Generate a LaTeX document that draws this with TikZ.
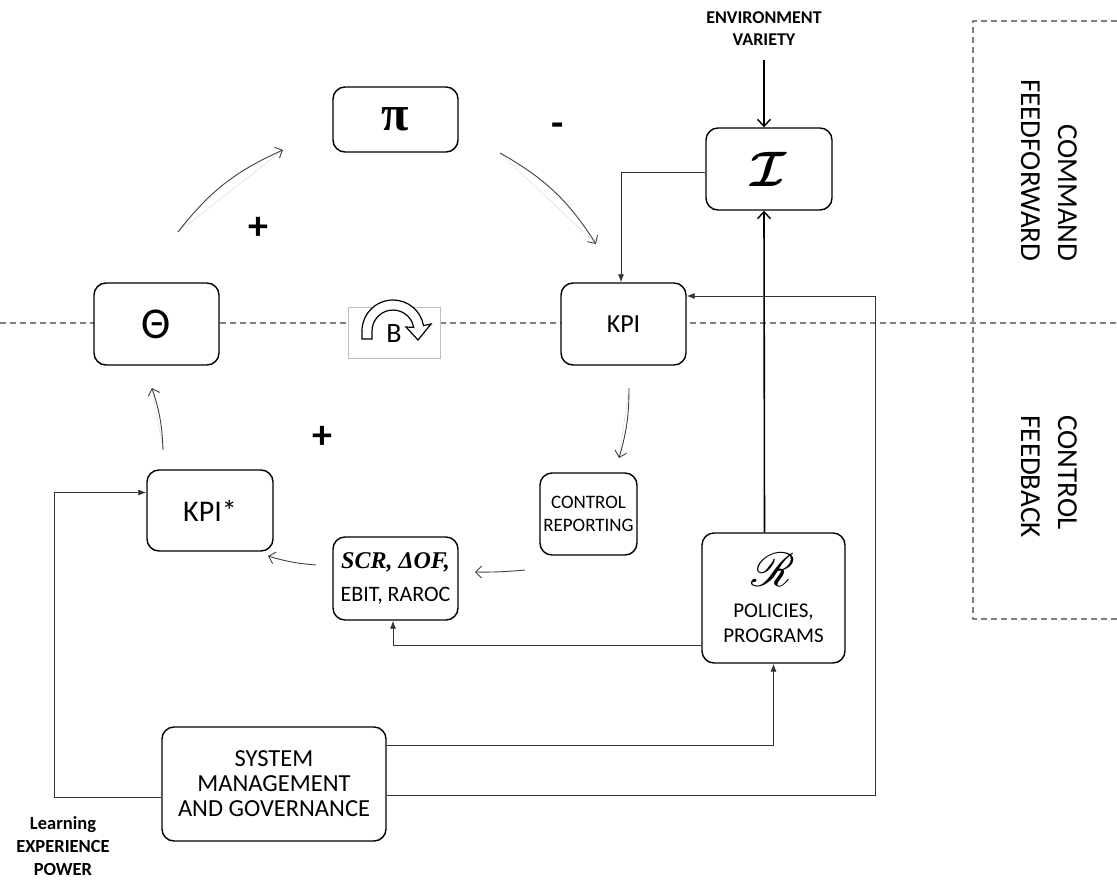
\documentclass[tikz,border=0pt]{standalone}
\usepackage{amsmath}
\usepackage{mathrsfs}
\usepackage{fontspec}
\setmainfont{Carlito}
\newfontfamily\serifbi{Liberation Serif}
\usetikzlibrary{arrows.meta}

\begin{document}
\begin{tikzpicture}[x=1pt,y=-1pt,
  box/.style={draw, fill=white, line width=1.4pt, rounded corners=12pt, align=center, inner sep=0pt},
  link/.style={draw=black!80, line width=0.8pt},
  fwd/.style={link, -{Latex[length=8pt,width=6pt]}},
  bold arrow/.style={draw=black, line width=1.6pt, -{Straight Barb[length=7pt,width=13pt,line width=1.4pt]}},
  curve/.style={draw=black!75, line width=0.9pt, -{Straight Barb[length=6pt,width=12pt]}},
  chord/.style={draw=black!12, line width=0.6pt},
  sep/.style={draw=black!50, line width=1.3pt, dash pattern=on 6pt off 4pt},
  sign/.style={font=\fontsize{40}{40}\selectfont\bfseries},
  side/.style={font=\fontsize{29}{37}\selectfont, rotate=-90},
]
\useasboundingbox (0,0) rectangle (1117,881);

% separators between the feedforward and feedback halves
\draw[sep] (0,323) -- (1117,323);
\draw[sep] (1117,21) -- (973,21) -- (973,619) -- (1117,619);

% blocks
\node[box, minimum width=125pt, minimum height=65pt, font=\fontsize{50}{50}\selectfont\serifbi\bfseries] (pi) at (395.5,119.5) {π};
\node[box, minimum width=126pt, minimum height=82pt, font=\fontsize{20}{20}\selectfont] (I) at (769,169) {\scalebox{2.4}{$\boldsymbol{\mathcal{I}}$}};
\node[box, minimum width=125pt, minimum height=82pt, font=\fontsize{44}{44}\selectfont] (theta) at (156.5,324) {Θ};
\node[box, minimum width=125pt, minimum height=82pt, font=\fontsize{26}{26}\selectfont] (kpi) at (623.5,324) {KPI};
\node[box, minimum width=126pt, minimum height=81pt, font=\fontsize{30}{30}\selectfont] (kpis) at (210,510.5) {KPI*};
\node[box, minimum width=97pt, minimum height=82pt, font=\fontsize{19}{23}\selectfont] (rep) at (588.5,514) {CONTROL\\REPORTING};
\node[box, minimum width=125pt, minimum height=83pt, font=\fontsize{22}{33}\selectfont] (scr) at (395.5,578.5) {{\serifbi\bfseries\itshape\fontsize{24}{24}\selectfont SCR, ΔOF,}\\EBIT, RAROC};
\node[box, minimum width=143pt, minimum height=130pt, font=\fontsize{21}{25}\selectfont] (R) at (773.5,598) {{\fontsize{20}{20}\selectfont\scalebox{2.3}{$\mathscr{R}$}}\\[6pt]POLICIES,\\PROGRAMS};
\node[box, minimum width=224pt, minimum height=114pt, font=\fontsize{24.5}{25}\selectfont] (sys) at (274,784) {SYSTEM\\MANAGEMENT\\AND GOVERNANCE};

% balancing loop marker
\node[draw=black!25, fill=white, minimum width=92pt, minimum height=51pt, inner sep=0pt] (loop) at (394,332.5) {};
\draw[line width=1.2pt, fill=white]
  (362,339) -- (362,331) arc[start angle=180, end angle=350, radius=31]
  -- (431,324) -- (418,340) -- (406,327)
  -- (413.7,327.4) arc[start angle=350, end angle=180, radius=21] -- (372,339) -- cycle;
\node[font=\fontsize{28}{28}\selectfont] (bl) at (394,334) {B};

% free labels
\node[font=\fontsize{18}{22}\selectfont\bfseries, align=center] (env) at (764,29) {ENVIRONMENT\\VARIETY};
\node[font=\fontsize{18.5}{23}\selectfont\bfseries, align=center] (learn) at (63,846) {Learning\\EXPERIENCE\\POWER};
\node[sign] (minus) at (558,130) {-};
\node[sign] (plus1) at (258,228) {+};
\node[sign] (plus2) at (322,437) {+};
\node[side, align=right, anchor=east] (cmd) at (1049,265) {COMMAND\\FEEDFORWARD};
\node[side, align=left, anchor=west] (ctl) at (1049,412) {CONTROL\\FEEDBACK};

% feedforward command path
\coordinate (envfoot) at (764,60);
\draw[bold arrow] (envfoot) -- ([xshift=-5pt]I.north);
\draw[bold arrow] ([xshift=-9pt]R.north) -- ([xshift=-5pt]I.south);
\draw[fwd] ([yshift=-3pt]I.west) -| ([xshift=-2.5pt]kpi.north);

% loop arrows
\coordinate (a1) at (178,232); \coordinate (a2) at (283,150);
\draw[chord] (a1) -- (a2); \draw[curve] (a1) to[bend left=14] (a2);
\coordinate (b1) at (500,153); \coordinate (b2) at (596,244);
\draw[chord] (b1) -- (b2); \draw[curve] (b1) to[bend left=14] (b2);
\coordinate (c1) at (629,388); \coordinate (c2) at (619,458);
\draw[chord] (c1) -- (c2); \draw[curve] (c1) to[bend left=8] (c2);
\coordinate (d1) at (525,570); \coordinate (d2) at (475,572);
\draw[curve] (d1) to[bend left=3] (d2);
\coordinate (e1) at (316,565); \coordinate (e2) at (268,556);
\draw[curve] (e1) to[bend left=6] (e2);
\coordinate (f1) at (163,450); \coordinate (f2) at (152,388);
\draw[chord] (f1) -- (f2); \draw[curve] (f1) to[bend right=8] (f2);

% management and governance connections
\draw[fwd] ([yshift=-47pt]R.west) -| ([xshift=-2.5pt]scr.south);
\draw[fwd] ([yshift=39pt]sys.east) -| (R.south);
\draw[fwd] ([yshift=-11pt]sys.east) -- ++(489,0) |- ([yshift=28pt]kpi.east);
\draw[fwd] ([yshift=-13pt]sys.west) -- ++(-107,0) |- ([yshift=18pt]kpis.west);
\end{tikzpicture}
\end{document}
